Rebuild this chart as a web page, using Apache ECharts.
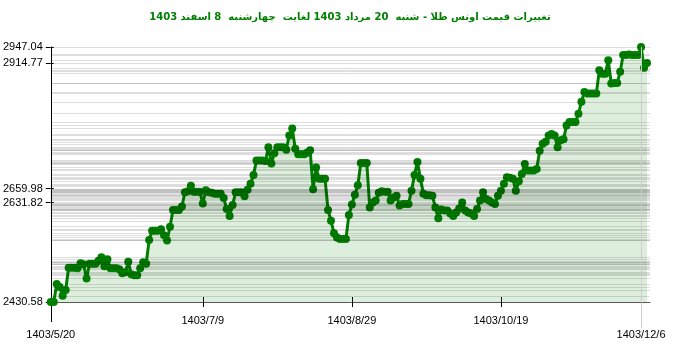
<!DOCTYPE html>
<html>
<head>
<meta charset="utf-8">
<script src="https://cdn.jsdelivr.net/npm/echarts@6/dist/echarts.min.js"></script>
<style>html,body{margin:0;padding:0;background:#fff}#c{width:700px;height:352px}</style>
</head>
<body>
<div id="c"></div>
<script>
// Title
const titleText = 'تغییرات قیمت اونس طلا - شنبه  20 مرداد 1403 لغایت  چهارشنبه  8 اسفند 1403';
// Daily values, index = day offset from 1403/5/20 (to 1403/12/8)
const values = [
  2430.58,2430.58,2467,2461,2443,2455,2500,2500,2500,2499,
  2509,2507,2478,2508,2508,2508,2514,2521,2503,2517,
  2499,2499,2499,2497,2489,2491,2512,2487,2485,2485,
  2499,2511,2508,2556,2575,2575,2575,2578,2566,2555,
  2583,2617,2617,2617,2624,2653,2655,2666,2654,2654,
  2654,2630,2657,2653,2652,2650,2650,2650,2641,2619,
  2605,2627,2653,2653,2653,2645,2658,2670,2688,2717,
  2717,2717,2716,2744,2711,2732,2744,2744,2744,2739,
  2768,2782,2741,2730,2730,2730,2733,2738,2659,2703,
  2680,2680,2680,2617,2595,2570,2561,2558,2558,2558,
  2607,2628,2648,2667,2712,2712,2712,2622,2632,2636,
  2652,2655,2654,2654,2636,2642,2646,2626,2629,2629,
  2629,2656,2688,2714,2680,2650,2647,2647,2646,2622,
  2600,2618,2616,2616,2610,2605,2612,2620,2632,2616,
  2612,2610,2605,2619,2636,2653,2639,2636,2632,2629,
  2646,2656,2670,2683,2682,2680,2656,2675,2690,2710,
  2697,2697,2697,2700,2737,2751,2755,2768,2771,2768,
  2744,2758,2760,2788,2795,2795,2795,2812,2836,2856,
  2853,2853,2853,2853,2900,2893,2893,2920,2873,2874,
  2874,2897,2931,2931,2932,2931,2931,2931,2947.04,2905,
  2914.77
];
// X tick positions (day offsets) and labels
const midTickDays = [51, 101, 151];
const midTickLabels = ['1403/7/9', '1403/8/29', '1403/10/19'];
const edgeTickDays = [0, 198];
const edgeTickLabels = ['1403/5/20', '1403/12/6'];
// Y tick labels
const yTicks = [2430.58, 2631.82, 2659.98, 2914.77, 2947.04];

const xMin = 0, xMax = 201;
const seriesData = values.map((v, i) => [i, v]);
const gridValues = Array.from(new Set(values));
const labelMap = {};
midTickDays.forEach((d, i) => labelMap[d] = midTickLabels[i]);
edgeTickDays.forEach((d, i) => labelMap[d] = edgeTickLabels[i]);

const baseX = {
  type: 'value', min: xMin, max: xMax, position: 'bottom',
  splitLine: { show: false }, axisLine: { show: false },
  axisTick: { show: false }, axisLabel: { show: false }
};
const font = 'Liberation Sans, Arial, sans-serif';

const chart = echarts.init(document.getElementById('c'), null, { renderer: 'canvas' });
chart.setOption({
  animation: false,
  backgroundColor: '#fff',
  title: {
    text: titleText, left: 'center', top: 7,
    textStyle: { color: '#008000', fontSize: 10, fontWeight: 'bold', fontFamily: 'DejaVu Sans' }
  },
  grid: { left: 50, right: 50, top: 47, bottom: 50 },
  xAxis: [
    Object.assign({}, baseX, {
      axisLine: { show: true, lineStyle: { color: '#666', width: 1 } },
      axisTick: { show: true, customValues: midTickDays, length: 5, lineStyle: { color: '#000' } },
      axisLabel: { show: true, customValues: midTickDays, margin: 13,
        formatter: v => labelMap[v] || '', color: '#000', fontSize: 11, fontFamily: font }
    }),
    Object.assign({}, baseX, {
      axisTick: { show: true, inside: true, customValues: midTickDays, length: 5, lineStyle: { color: '#000' } }
    }),
    Object.assign({}, baseX, {
      axisTick: { show: true, customValues: [edgeTickDays[0]], length: 20, lineStyle: { color: '#000' } },
      axisLabel: { show: true, customValues: edgeTickDays, margin: 27,
        formatter: v => labelMap[v] || '', color: '#000', fontSize: 11, fontFamily: font }
    }),
    Object.assign({}, baseX, {
      axisTick: { show: true, customValues: [edgeTickDays[1]], length: 26, lineStyle: { color: '#ccc' } }
    })
  ],
  yAxis: [
    {
      type: 'value', min: yTicks[0], max: yTicks[yTicks.length - 1],
      splitLine: { show: false },
      axisLine: { show: true, lineStyle: { color: '#000', width: 1 } },
      axisTick: { show: true, customValues: yTicks, length: 5, lineStyle: { color: '#000' } },
      axisLabel: { show: true, customValues: yTicks, margin: 8, formatter: v => v.toFixed(2),
        color: '#000', fontSize: 11, fontFamily: font }
    },
    {
      type: 'value', min: yTicks[0], max: yTicks[yTicks.length - 1], position: 'left',
      splitLine: { show: false }, axisLine: { show: false }, axisLabel: { show: false },
      axisTick: { show: true, inside: true, customValues: yTicks, length: 3, lineStyle: { color: '#000' } }
    }
  ],
  series: [
    {
      type: 'line', z: 1, silent: true, data: seriesData,
      symbol: 'none', lineStyle: { opacity: 0 },
      markLine: {
        silent: true, symbol: 'none', animation: false,
        label: { show: false },
        lineStyle: { color: 'rgba(0,0,0,0.13)', width: 1, type: 'solid' },
        data: gridValues.map(v => ({ yAxis: v })).concat([{ xAxis: edgeTickDays[1], lineStyle: { color: '#ccc' } }])
      }
    },
    {
      type: 'line', z: 3, data: seriesData,
      symbol: 'circle', symbolSize: 8,
      lineStyle: { color: '#008000', width: 3 },
      itemStyle: { color: '#008000' },
      areaStyle: { color: 'rgba(0,128,0,0.19)' }
    }
  ]
});
</script>
</body>
</html>
